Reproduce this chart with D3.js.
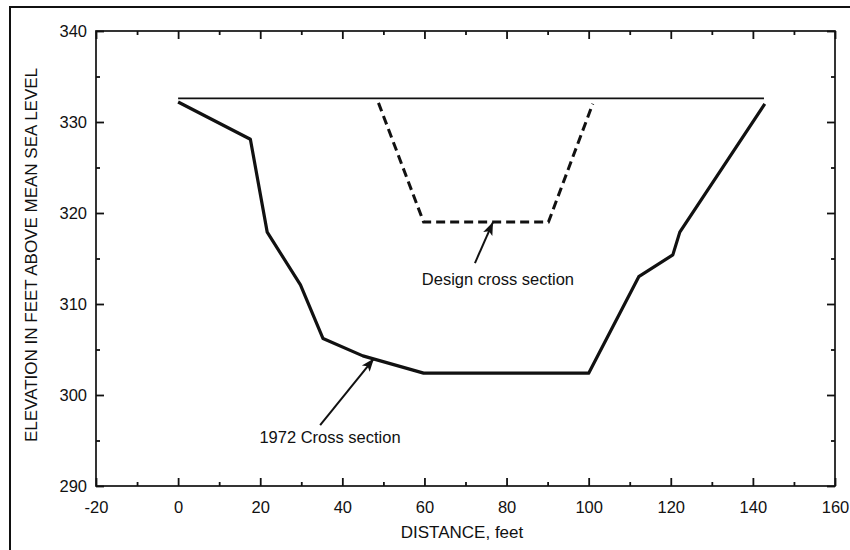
<!DOCTYPE html>
<html>
<head>
<meta charset="utf-8">
<script src="https://cdn.jsdelivr.net/npm/d3@7"></script>
<style>
  html, body { margin: 0; padding: 0; background: #fff; }
  svg { display: block; }
  text { font-family: "Liberation Sans", Arial, Helvetica, sans-serif; fill: #111; }
</style>
</head>
<body>
<svg id="chart" width="850" height="550"></svg>
<script>
// Channel cross sections: distance across channel (feet) vs elevation (feet above MSL)
const section1972X = [0, 17.6, 21.7, 29.8, 35.3, 45, 59.8, 100, 112.2, 120.5, 122.2, 142.9];
const section1972Y = [332.2, 328.1, 317.9, 312.1, 306.2, 304.3, 302.4, 302.4, 313.0, 315.4, 317.9, 332.0];

const designX = [48.8, 59.8, 90.2, 101.0];
const designY = [332.1, 319.0, 319.0, 332.0];

const waterX = [0, 142.7];
const waterY = [332.6, 332.6];

const xTicks = [-20, 0, 20, 40, 60, 80, 100, 120, 140, 160];
const yTicks = [290, 300, 310, 320, 330, 340];
const xMinorTicks = [-10, 10, 30, 50, 70, 90, 110, 130, 150];
const yMinorTicks = [295, 305, 315, 325, 335];

const labels = [
  { text: "Design cross section", x: 77.9, y: 312.1, arrowFrom: [72.3, 314.5], arrowTo: [76.7, 319.0] },
  { text: "1972 Cross section",   x: 37.0, y: 294.7, arrowFrom: [34.6, 296.7], arrowTo: [47.7, 304.0] }
];

const width = 850, height = 550;
const margin = { top: 31, right: 15, bottom: 64, left: 96 };
const svg = d3.select("#chart");

// Outer figure frame (runs off the right and bottom edges)
svg.append("rect")
  .attr("x", 10).attr("y", 7)
  .attr("width", 900).attr("height", 600)
  .attr("fill", "none").attr("stroke", "#111").attr("stroke-width", 2);

const x = d3.scaleLinear().domain([-20, 160]).range([margin.left, width - margin.right]);
const y = d3.scaleLinear().domain([290, 340]).range([height - margin.bottom, margin.top]);

const x0 = x.range()[0], x1 = x.range()[1];
const y0 = y.range()[0], y1 = y.range()[1];

function styleAxis(sel) {
  sel.select(".domain").remove();
  sel.selectAll(".tick line").attr("stroke", "#111").attr("stroke-width", 1.8);
  sel.selectAll(".tick text").style("font-size", "16.5px").attr("fill", "#111");
}

const axes = svg.append("g");

// Major ticks (inward) with labels on bottom and left, bare on top and right
axes.append("g").attr("transform", `translate(0,${y0})`)
  .call(d3.axisBottom(x).tickValues(xTicks).tickSizeInner(-8).tickSizeOuter(0).tickPadding(15).tickFormat(d => String(d)))
  .call(styleAxis);
axes.append("g").attr("transform", `translate(0,${y1})`)
  .call(d3.axisTop(x).tickValues(xTicks).tickSizeInner(-8).tickSizeOuter(0).tickFormat(""))
  .call(styleAxis);
axes.append("g").attr("transform", `translate(${x0},0)`)
  .call(d3.axisLeft(y).tickValues(yTicks).tickSizeInner(-8).tickSizeOuter(0).tickPadding(9).tickFormat(d => String(d)))
  .call(styleAxis);
axes.append("g").attr("transform", `translate(${x1},0)`)
  .call(d3.axisRight(y).tickValues(yTicks).tickSizeInner(-8).tickSizeOuter(0).tickFormat(""))
  .call(styleAxis);

// Minor ticks
axes.append("g").attr("transform", `translate(0,${y0})`)
  .call(d3.axisBottom(x).tickValues(xMinorTicks).tickSizeInner(-4).tickSizeOuter(0).tickFormat(""))
  .call(styleAxis);
axes.append("g").attr("transform", `translate(0,${y1})`)
  .call(d3.axisTop(x).tickValues(xMinorTicks).tickSizeInner(-4).tickSizeOuter(0).tickFormat(""))
  .call(styleAxis);
axes.append("g").attr("transform", `translate(${x0},0)`)
  .call(d3.axisLeft(y).tickValues(yMinorTicks).tickSizeInner(-4).tickSizeOuter(0).tickFormat(""))
  .call(styleAxis);
axes.append("g").attr("transform", `translate(${x1},0)`)
  .call(d3.axisRight(y).tickValues(yMinorTicks).tickSizeInner(-4).tickSizeOuter(0).tickFormat(""))
  .call(styleAxis);

// Plot frame
svg.append("rect")
  .attr("x", x0).attr("y", y1)
  .attr("width", x1 - x0).attr("height", y0 - y1)
  .attr("fill", "none").attr("stroke", "#111").attr("stroke-width", 1.7);

// Axis titles
svg.append("text")
  .attr("x", 462).attr("y", 538)
  .attr("text-anchor", "middle")
  .style("font-size", "17px")
  .text("DISTANCE, feet");

svg.append("text")
  .attr("transform", `translate(37,255) rotate(-90)`)
  .attr("text-anchor", "middle")
  .style("font-size", "17px")
  .text("ELEVATION IN FEET ABOVE MEAN SEA LEVEL");

const line = d3.line().x(d => x(d[0])).y(d => y(d[1]));

// Water surface
svg.append("path")
  .datum(d3.zip(waterX, waterY))
  .attr("d", line)
  .attr("fill", "none").attr("stroke", "#111").attr("stroke-width", 1.6);

// Design cross section (dashed)
svg.append("path")
  .datum(d3.zip(designX, designY))
  .attr("d", line)
  .attr("fill", "none").attr("stroke", "#111").attr("stroke-width", 3)
  .attr("stroke-dasharray", "9,5");

// 1972 cross section
svg.append("path")
  .datum(d3.zip(section1972X, section1972Y))
  .attr("d", line)
  .attr("fill", "none").attr("stroke", "#111").attr("stroke-width", 3.2)
  .attr("stroke-linejoin", "round");

// Arrowhead marker
svg.append("defs").append("marker")
  .attr("id", "arrow")
  .attr("markerUnits", "userSpaceOnUse")
  .attr("viewBox", "-14 -6 15 12")
  .attr("refX", 0).attr("refY", 0)
  .attr("markerWidth", 15).attr("markerHeight", 12)
  .attr("orient", "auto")
  .append("path")
  .attr("d", "M0,0 L-13,-5 L-10,0 L-13,5 Z")
  .attr("fill", "#111");

labels.forEach(l => {
  svg.append("line")
    .attr("x1", x(l.arrowFrom[0])).attr("y1", y(l.arrowFrom[1]))
    .attr("x2", x(l.arrowTo[0])).attr("y2", y(l.arrowTo[1]))
    .attr("stroke", "#111").attr("stroke-width", 2)
    .attr("marker-end", "url(#arrow)");
  svg.append("text")
    .attr("x", x(l.x)).attr("y", y(l.y))
    .attr("text-anchor", "middle")
    .style("font-size", "16.5px")
    .text(l.text);
});
</script>
</body>
</html>
